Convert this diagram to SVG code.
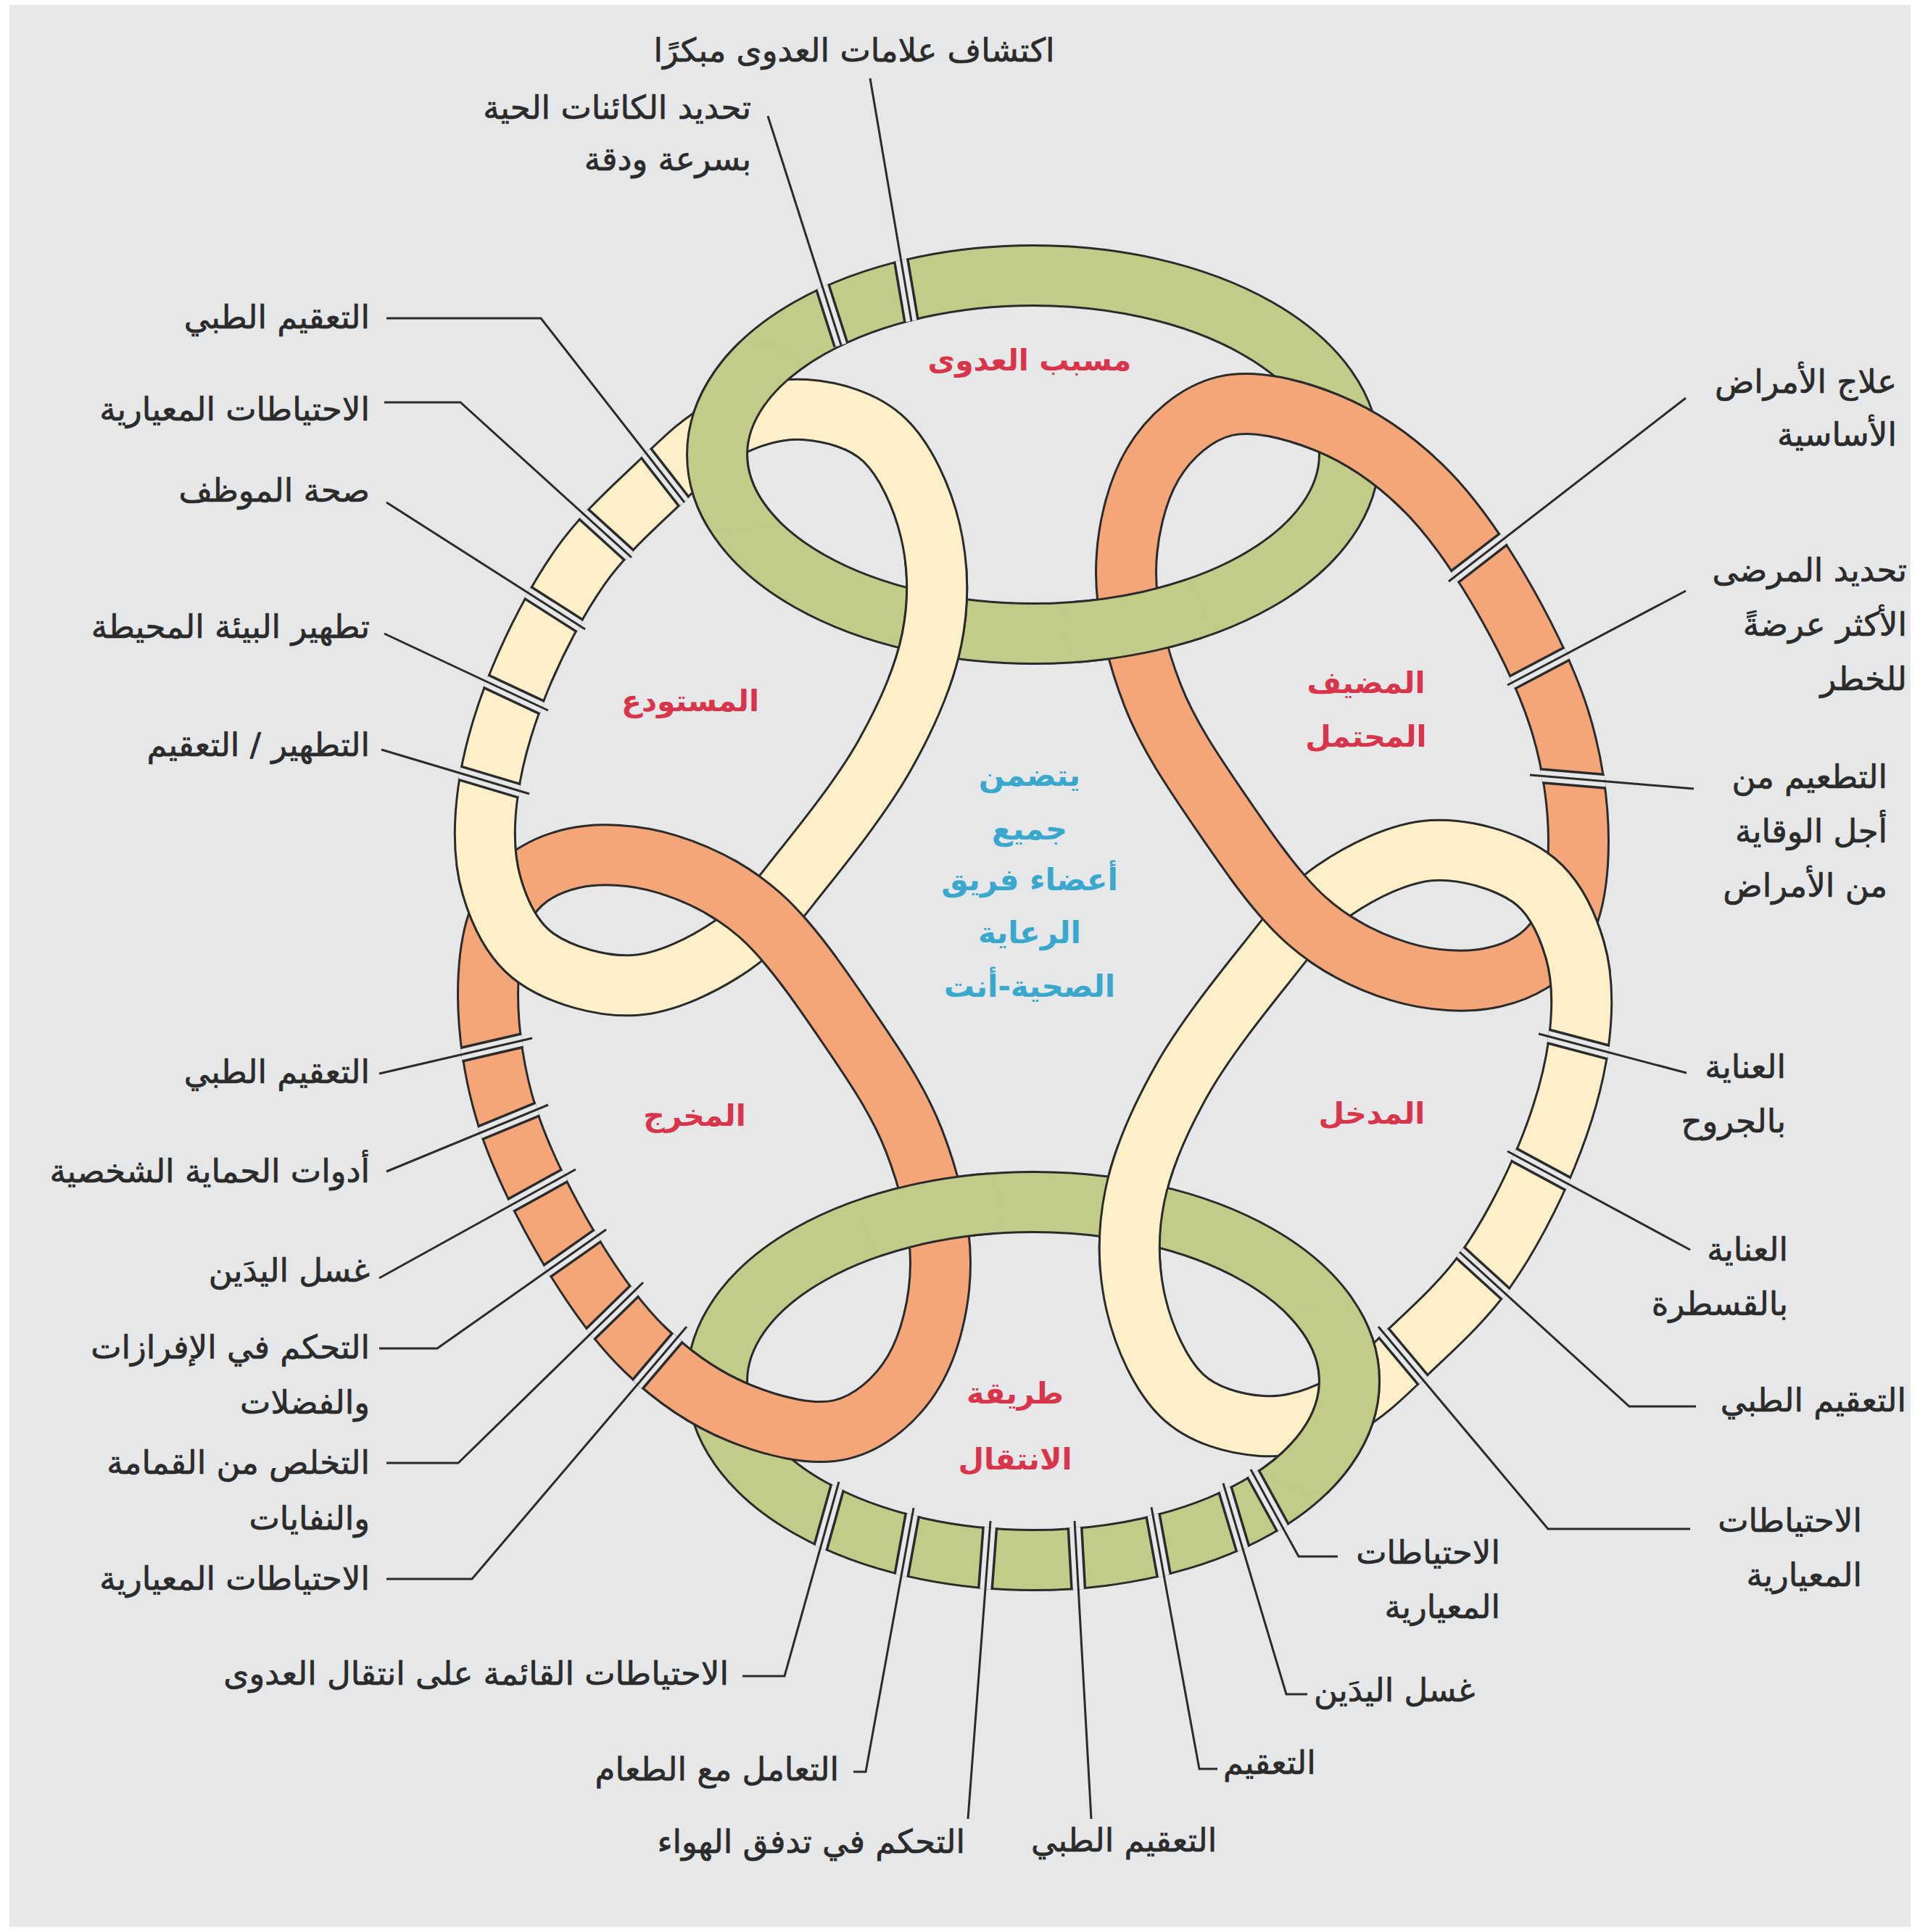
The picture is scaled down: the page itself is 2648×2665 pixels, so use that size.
<svg xmlns="http://www.w3.org/2000/svg" xmlns:xlink="http://www.w3.org/1999/xlink" width="2648" height="2665" viewBox="0 0 2648 2665">
<style>
.bg{fill:#e6e7e8}
.ol{fill:none;stroke:#2b2b2b;stroke-width:86}
.gf{fill:none;stroke:#c2cb88;stroke-width:80}
.of{fill:none;stroke:#f4a678;stroke-width:80}
.cf{fill:none;stroke:#fdf0c8;stroke-width:80}
.mk{fill:none;stroke:#fff;stroke-width:86}
.gapd{fill:none;stroke:#2b2b2b;stroke-width:22}
.gapl{fill:none;stroke:#e6e7e8;stroke-width:15}
.ld{fill:none;stroke:#2b2b2b;stroke-width:3}
.lbl{font-family:"DejaVu Sans",sans-serif;font-size:45px;fill:#2b2b2b;stroke:#2b2b2b;stroke-width:0.7}
.e{text-anchor:end}
.s{text-anchor:start}
.m{text-anchor:middle}
.red{font-family:"DejaVu Sans",sans-serif;font-weight:bold;font-size:41px;fill:#d8354a;text-anchor:middle}
.blue{font-family:"DejaVu Sans",sans-serif;font-weight:bold;font-size:42px;fill:#3aa7cc;text-anchor:middle}
</style>
<defs>
<ellipse id="gT" cx="1425" cy="627" rx="436" ry="247"/>
<path id="oUR" d="M1690 560 C1730 550.5 1785 564.7 1830 583 C1875 601.3 1920.8 632.2 1960 670 C1999.2 707.8 2033.3 756.7 2065 810 C2096.7 863.3 2131.3 931.7 2150 990 C2168.7 1048.3 2177 1110 2177 1160 C2177 1210 2169.5 1258.7 2150 1290 C2130.5 1321.3 2096.7 1339.7 2060 1348 C2023.3 1356.3 1973.3 1353.3 1930 1340 C1886.7 1326.7 1841.7 1305.5 1800 1268 C1758.3 1230.5 1715 1166.3 1680 1115 C1645 1063.7 1611.2 1014.2 1590 960 C1568.8 905.8 1553 843.3 1553 790 C1553 736.7 1567.2 678.3 1590 640 C1612.8 601.7 1650 569.5 1690 560 Z"/>
<path id="cLR" d="M1975 1173 C2020 1170 2077.2 1187.2 2110 1210 C2142.8 1232.8 2160.8 1271.7 2172 1310 C2183.2 1348.3 2183.5 1392.5 2177 1440 C2170.5 1487.5 2154.2 1543.3 2133 1595 C2111.8 1646.7 2081.3 1705.5 2050 1750 C2018.7 1794.5 1978.3 1830.3 1945 1862 C1911.7 1893.7 1884.2 1922.5 1850 1940 C1815.8 1957.5 1776.7 1969.5 1740 1967 C1703.3 1964.5 1658.8 1952.8 1630 1925 C1601.2 1897.2 1577.8 1845.8 1567 1800 C1556.2 1754.2 1554.5 1701.7 1565 1650 C1575.5 1598.3 1600 1543.3 1630 1490 C1660 1436.7 1710 1373.7 1745 1330 C1780 1286.3 1801.7 1254.2 1840 1228 C1878.3 1201.8 1930 1176 1975 1173 Z"/>
<mask id="mA" maskUnits="userSpaceOnUse" x="-300" y="-300" width="3300" height="3300"><ellipse cx="1010" cy="600" rx="150" ry="130" fill="#fff"/></mask>
<mask id="mC" maskUnits="userSpaceOnUse" x="-300" y="-300" width="3300" height="3300"><circle cx="1565" cy="862" r="95" fill="#fff"/></mask>
<mask id="mD" maskUnits="userSpaceOnUse" x="-300" y="-300" width="3300" height="3300"><circle cx="1865" cy="615" r="115" fill="#fff"/></mask>
<mask id="mE2" maskUnits="userSpaceOnUse" x="-300" y="-300" width="3300" height="3300"><circle cx="1780" cy="1265" r="100" fill="#fff"/></mask>
<mask id="mE1" maskUnits="userSpaceOnUse" x="-300" y="-300" width="3300" height="3300"><ellipse cx="2150" cy="1255" rx="95" ry="130" fill="#fff"/></mask>
<mask id="mB" maskUnits="userSpaceOnUse" x="-300" y="-300" width="3300" height="3300"><circle cx="1565" cy="1671" r="95" fill="#fff"/></mask>
<mask id="rm" maskUnits="userSpaceOnUse" x="0" y="0" width="2648" height="2665">
<use href="#gT" class="mk"/><use href="#oUR" class="mk"/><use href="#cLR" class="mk"/>
<g transform="rotate(180 1425 1266)"><use href="#gT" class="mk"/><use href="#oUR" class="mk"/><use href="#cLR" class="mk"/></g>
</mask>
</defs>
<rect x="0" y="0" width="2648" height="2665" fill="#ffffff"/>
<rect class="bg" x="13" y="7" width="2622" height="2651"/>
<g id="loops">
<g id="loops-a">
<use href="#gT" class="ol"/><use href="#gT" class="gf"/>
<use href="#oUR" class="ol"/><use href="#oUR" class="of"/>
<use href="#cLR" class="ol"/><use href="#cLR" class="cf"/>
</g>
<g id="loops-b" transform="rotate(180 1425 1266)">
<use href="#gT" class="ol"/><use href="#gT" class="gf"/>
<use href="#oUR" class="ol"/><use href="#oUR" class="of"/>
<use href="#cLR" class="ol"/><use href="#cLR" class="cf"/>
</g>
<g id="over-a">
<g mask="url(#mA)"><use href="#gT" class="ol"/><use href="#gT" class="gf"/></g>
<g mask="url(#mC)"><use href="#gT" class="ol"/><use href="#gT" class="gf"/></g>
<g mask="url(#mD)"><use href="#oUR" class="ol"/><use href="#oUR" class="of"/></g>
<g mask="url(#mE2)"><use href="#oUR" class="ol"/><use href="#oUR" class="of"/></g>
<g mask="url(#mE1)"><use href="#cLR" class="ol"/><use href="#cLR" class="cf"/></g>
<g mask="url(#mB)"><use href="#cLR" class="ol"/><use href="#cLR" class="cf"/></g>
</g>
<g id="over-b" transform="rotate(180 1425 1266)">
<g mask="url(#mA)"><use href="#gT" class="ol"/><use href="#gT" class="gf"/></g>
<g mask="url(#mC)"><use href="#gT" class="ol"/><use href="#gT" class="gf"/></g>
<g mask="url(#mD)"><use href="#oUR" class="ol"/><use href="#oUR" class="of"/></g>
<g mask="url(#mE2)"><use href="#oUR" class="ol"/><use href="#oUR" class="of"/></g>
<g mask="url(#mE1)"><use href="#cLR" class="ol"/><use href="#cLR" class="cf"/></g>
<g mask="url(#mB)"><use href="#cLR" class="ol"/><use href="#cLR" class="cf"/></g>
</g>
</g>
<g id="separators" mask="url(#rm)">
<g class="gapd">
<line x1="746" y1="439" x2="944" y2="693"/>
<line x1="635" y1="555" x2="871" y2="769"/>
<line x1="533" y1="693" x2="807" y2="868"/>
<line x1="530" y1="874" x2="756" y2="980"/>
<line x1="526" y1="1034" x2="730" y2="1095"/>
<line x1="523" y1="1481" x2="734" y2="1432"/>
<line x1="533" y1="1616" x2="756" y2="1524"/>
<line x1="523" y1="1763" x2="794" y2="1613"/>
<line x1="603" y1="1860" x2="836" y2="1696"/>
<line x1="632" y1="2018" x2="887" y2="1769"/>
<line x1="651" y1="2178" x2="947" y2="1830"/>
<line x1="1082" y1="2312" x2="1157" y2="2044"/>
<line x1="1194" y1="2444" x2="1260" y2="2080"/>
<line x1="1335" y1="2509" x2="1366" y2="2098"/>
<line x1="1505" y1="2509" x2="1482" y2="2098"/>
<line x1="1654" y1="2440" x2="1588" y2="2079"/>
<line x1="1774" y1="2337" x2="1687" y2="2046"/>
<line x1="1791" y1="2147" x2="1725" y2="2027"/>
<line x1="2325" y1="549" x2="1998" y2="802"/>
<line x1="2325" y1="815" x2="2079" y2="945"/>
<line x1="2336" y1="1088" x2="2110" y2="1069"/>
<line x1="2326" y1="1480" x2="2122" y2="1426"/>
<line x1="2331" y1="1724" x2="2079" y2="1588"/>
<line x1="2247" y1="1940" x2="2013" y2="1727"/>
<line x1="2135" y1="2109" x2="1901" y2="1830"/>
<line x1="1200" y1="108" x2="1257" y2="443"/>
<line x1="1059" y1="160" x2="1160" y2="476"/>
</g>
<g class="gapl">
<line x1="746" y1="439" x2="944" y2="693"/>
<line x1="635" y1="555" x2="871" y2="769"/>
<line x1="533" y1="693" x2="807" y2="868"/>
<line x1="530" y1="874" x2="756" y2="980"/>
<line x1="526" y1="1034" x2="730" y2="1095"/>
<line x1="523" y1="1481" x2="734" y2="1432"/>
<line x1="533" y1="1616" x2="756" y2="1524"/>
<line x1="523" y1="1763" x2="794" y2="1613"/>
<line x1="603" y1="1860" x2="836" y2="1696"/>
<line x1="632" y1="2018" x2="887" y2="1769"/>
<line x1="651" y1="2178" x2="947" y2="1830"/>
<line x1="1082" y1="2312" x2="1157" y2="2044"/>
<line x1="1194" y1="2444" x2="1260" y2="2080"/>
<line x1="1335" y1="2509" x2="1366" y2="2098"/>
<line x1="1505" y1="2509" x2="1482" y2="2098"/>
<line x1="1654" y1="2440" x2="1588" y2="2079"/>
<line x1="1774" y1="2337" x2="1687" y2="2046"/>
<line x1="1791" y1="2147" x2="1725" y2="2027"/>
<line x1="2325" y1="549" x2="1998" y2="802"/>
<line x1="2325" y1="815" x2="2079" y2="945"/>
<line x1="2336" y1="1088" x2="2110" y2="1069"/>
<line x1="2326" y1="1480" x2="2122" y2="1426"/>
<line x1="2331" y1="1724" x2="2079" y2="1588"/>
<line x1="2247" y1="1940" x2="2013" y2="1727"/>
<line x1="2135" y1="2109" x2="1901" y2="1830"/>
<line x1="1200" y1="108" x2="1257" y2="443"/>
<line x1="1059" y1="160" x2="1160" y2="476"/>
</g>
</g>
<g id="connectors" class="ld">
<polyline points="533,439 746,439 944,693"/>
<polyline points="530,555 635,555 871,769"/>
<polyline points="533,693 807,868"/>
<polyline points="530,874 756,980"/>
<polyline points="526,1034 730,1095"/>
<polyline points="523,1481 734,1432"/>
<polyline points="533,1616 756,1524"/>
<polyline points="523,1763 794,1613"/>
<polyline points="523,1860 603,1860 836,1696"/>
<polyline points="533,2018 632,2018 887,1769"/>
<polyline points="533,2178 651,2178 947,1830"/>
<polyline points="1024,2312 1082,2312 1157,2044"/>
<polyline points="1177,2444 1194,2444 1260,2080"/>
<polyline points="1335,2509 1366,2098"/>
<polyline points="1505,2509 1482,2098"/>
<polyline points="1679,2440 1654,2440 1588,2079"/>
<polyline points="1803,2337 1774,2337 1687,2046"/>
<polyline points="1845,2147 1791,2147 1725,2027"/>
<polyline points="2325,549 1998,802"/>
<polyline points="2325,815 2079,945"/>
<polyline points="2336,1088 2110,1069"/>
<polyline points="2326,1480 2122,1426"/>
<polyline points="2331,1724 2079,1588"/>
<polyline points="2339,1940 2247,1940 2013,1727"/>
<polyline points="2331,2109 2135,2109 1901,1830"/>
<polyline points="1200,108 1257,443"/>
<polyline points="1059,160 1160,476"/>
</g>
<g id="labels-left" class="lbl e">
<text x="510" y="453">التعقيم الطبي</text>
<text x="510" y="580">الاحتياطات المعيارية</text>
<text x="510" y="692">صحة الموظف</text>
<text x="510" y="880">تطهير البيئة المحيطة</text>
<text x="510" y="1043">التطهير / التعقيم</text>
<text x="510" y="1494">التعقيم الطبي</text>
<text x="510" y="1631">أدوات الحماية الشخصية</text>
<text x="510" y="1768">غسل اليدَين</text>
<text x="510" y="1874">التحكم في الإفرازات</text>
<text x="510" y="1950">والفضلات</text>
<text x="510" y="2033">التخلص من القمامة</text>
<text x="510" y="2110">والنفايات</text>
<text x="510" y="2193">الاحتياطات المعيارية</text>
</g>
<g id="labels-bottom" class="lbl">
<text class="e" x="1005" y="2324">الاحتياطات القائمة على انتقال العدوى</text>
<text class="e" x="1157" y="2456">التعامل مع الطعام</text>
<text class="e" x="1331" y="2556">التحكم في تدفق الهواء</text>
<text class="s" x="1422" y="2554">التعقيم الطبي</text>
<text class="s" x="1687" y="2447">التعقيم</text>
<text class="s" x="1812" y="2347">غسل اليدَين</text>
<text class="e" x="2069" y="2157">الاحتياطات</text>
<text class="e" x="2069" y="2232">المعيارية</text>
</g>
<g id="labels-right" class="lbl e">
<text x="2616" y="542">علاج الأمراض</text>
<text x="2616" y="615">الأساسية</text>
<text x="2630" y="802">تحديد المرضى</text>
<text x="2630" y="877">الأكثر عرضةً</text>
<text x="2630" y="952">للخطر</text>
<text x="2603" y="1087">التطعيم من</text>
<text x="2603" y="1162">أجل الوقاية</text>
<text x="2603" y="1237">من الأمراض</text>
<text x="2463" y="1487">العناية</text>
<text x="2463" y="1562">بالجروح</text>
<text x="2466" y="1739">العناية</text>
<text x="2466" y="1814">بالقسطرة</text>
<text x="2629" y="1947">التعقيم الطبي</text>
<text x="2568" y="2113">الاحتياطات</text>
<text x="2568" y="2188">المعيارية</text>
</g>
<g id="labels-top" class="lbl">
<text class="m" x="1178" y="85">اكتشاف علامات العدوى مبكرًا</text>
<text class="e" x="1036" y="164">تحديد الكائنات الحية</text>
<text class="e" x="1036" y="235">بسرعة ودقة</text>
</g>
<g id="stage-labels">
<text class="red" x="1420" y="511">مسبب العدوى</text>
<text class="red" x="952" y="981">المستودع</text>
<text class="red" x="1884" y="956">المضيف</text>
<text class="red" x="1884" y="1030">المحتمل</text>
<text class="red" x="958" y="1553">المخرج</text>
<text class="red" x="1892" y="1550">المدخل</text>
<text class="red" x="1400" y="1936">طريقة</text>
<text class="red" x="1400" y="2027">الانتقال</text>
</g>
<g id="center-label">
<text class="blue" x="1420" y="1084">يتضمن</text>
<text class="blue" x="1420" y="1158">جميع</text>
<text class="blue" x="1420" y="1228">أعضاء فريق</text>
<text class="blue" x="1420" y="1301">الرعاية</text>
<text class="blue" x="1420" y="1375">الصحية-أنت</text>
</g>
</svg>
